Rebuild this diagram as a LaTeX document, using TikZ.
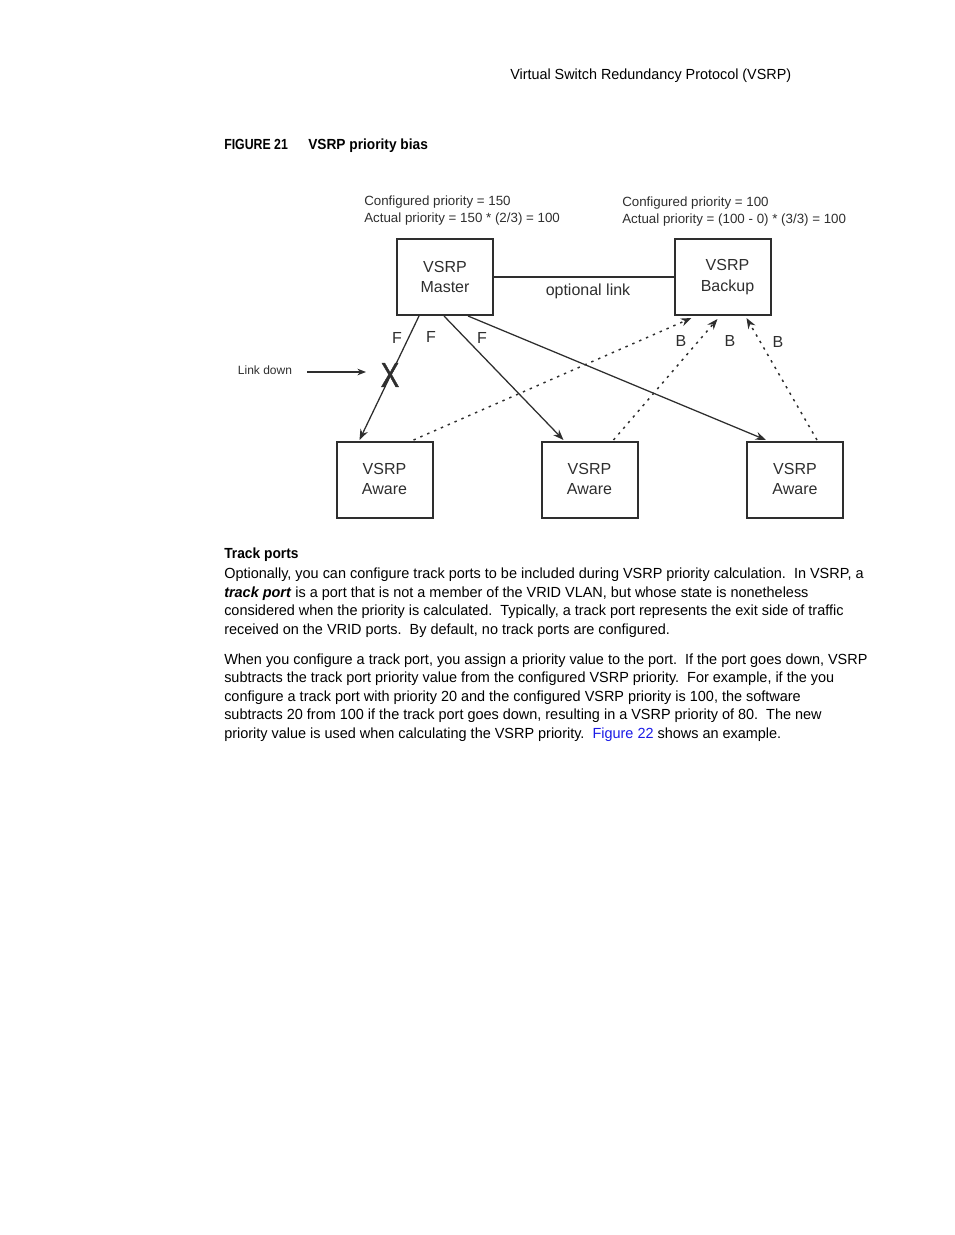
\documentclass[tikz,border=0pt]{standalone}
\usepackage{fontspec}
\setmainfont{Liberation Sans}
\newfontfamily\bodyfont[FakeStretch=0.985]{Liberation Sans}
\newfontfamily\hdrfont[FakeStretch=0.98]{Liberation Sans}
\newfontfamily\boldbody[FakeStretch=0.94]{Liberation Sans}
\newfontfamily\titlefont[FakeStretch=0.935]{Liberation Sans}
\newfontfamily\condfont[FakeStretch=0.84]{Liberation Sans}
\newfontfamily\xfont[FakeStretch=0.8,FakeBold=1.2]{Liberation Sans}
\usetikzlibrary{arrows.meta,calc}
\definecolor{ink}{HTML}{2E2E2E}
\definecolor{linkblue}{HTML}{1A1AE6}
\tikzset{
  devbox/.style={draw=ink,line width=1.5pt,minimum width=72pt,minimum height=57pt,inner sep=0pt,align=center,font=\fontsize{12}{14.5}\selectfont,text=ink},
  solidlink/.style={draw=ink,line width=0.95pt,-{Stealth[length=8pt,width=6pt]}},
  dotlink/.style={draw=ink,line width=1.1pt,dash pattern=on 1.8pt off 3.8pt,-{Stealth[length=8pt,width=6pt]}},
  portlbl/.style={font=\fontsize{12}{14}\selectfont,text=ink,inner sep=0pt},
  small/.style={font=\fontsize{10}{12}\selectfont,text=ink,inner sep=0pt,anchor=base west},
  bodyline/.style={font=\bodyfont\fontsize{11}{13}\selectfont,inner sep=0pt,anchor=base west}
}
\begin{document}
\begin{tikzpicture}[x=0.75pt,y=-0.75pt]
\useasboundingbox (0,0) rectangle (954,1235);
% header
\node[inner sep=0pt,anchor=base west,font=\hdrfont\fontsize{11}{13}\selectfont] (hdr) at (510,79) {Virtual Switch Redundancy Protocol (VSRP)};
\node[inner sep=0pt,anchor=base west,font=\condfont\bfseries\fontsize{11}{12}\selectfont] (fig) at (224,149) {FIGURE 21};
\node[inner sep=0pt,anchor=base west,font=\titlefont\bfseries\fontsize{11}{12}\selectfont] (figt) at (308,149) {VSRP priority bias};
% priority labels
\node[small] (cl1) at (364,205) {Configured priority = 150};
\node[small] (cl2) at (364,222) {Actual priority = 150 * (2/3) = 100};
\node[small] (cr1) at (622,206) {Configured priority = 100};
\node[small] (cr2) at (622,223) {Actual priority = (100 - 0) * (3/3) = 100};
% boxes
\node[devbox] (m) at (445,277) {VSRP\\Master};
\node[devbox,font=\fontsize{12}{16}\selectfont] (b) at (722.5,277) {\hspace*{7.5pt}\raisebox{-1.5pt}{VSRP}\\\hspace*{7.5pt}\raisebox{-1.5pt}{Backup}};
\node[devbox] (a1) at (384.5,480) {\raisebox{1.5pt}{VSRP}\\\raisebox{1.5pt}{Aware}};
\node[devbox] (a2) at (589.5,480) {\raisebox{1.5pt}{VSRP}\\\raisebox{1.5pt}{Aware}};
\node[devbox] (a3) at (795,480) {\raisebox{1.5pt}{VSRP}\\\raisebox{1.5pt}{Aware}};
% optional link
\draw[ink,line width=1.5pt] (m.east) -- (b.east -| b.west);
\node[portlbl] (opt) at (588,291) {optional link};
% connection points
\coordinate (m1) at ($(m.south west)+(23,0)$);
\coordinate (m2) at ($(m.south west)+(48,0)$);
\coordinate (m3) at ($(m.south west)+(72,0)$);
\coordinate (t1) at ($(a1.north west)+(24,-1)$);
\coordinate (t2) at ($(a2.north west)+(23,-1)$);
\coordinate (t3) at ($(a3.north west)+(20,-1)$);
\coordinate (s1) at ($(a1.north west)+(78,-1)$);
\coordinate (s2) at ($(a2.north west)+(73,-1)$);
\coordinate (s3) at ($(a3.north west)+(71,-1)$);
\coordinate (u1) at ($(b.south west)+(18,2)$);
\coordinate (u2) at ($(b.south west)+(44,3)$);
\coordinate (u3) at ($(b.south west)+(73,2)$);
\draw[solidlink] (m1) -- (t1);
\draw[solidlink] (m2) -- (t2);
\draw[solidlink] (m3) -- (t3);
\draw[dotlink] (s1) -- (u1);
\draw[dotlink] (s2) -- (u2);
\draw[dotlink] (s3) -- (u3);
% port labels
\node[portlbl] (f1) at (397,338) {F};
\node[portlbl] (f2) at (431,337) {F};
\node[portlbl] (f3) at (482,338) {F};
\node[portlbl] (b1) at (681,341) {B};
\node[portlbl] (b2) at (730,341) {B};
\node[portlbl] (b3) at (778,342) {B};
% link down
\node[inner sep=0pt,text=ink,font=\xfont\fontsize{26}{26}\selectfont] (x) at (390,375) {X};
\node[inner sep=0pt,text=ink,font=\fontsize{9}{10}\selectfont] (ld) at (265,370) {Link down};
\coordinate (ldto) at (366,372);
\draw[ink,line width=0.8pt,-{Stealth[length=6.5pt,width=5pt]}] (307,372) -- (ldto);
% body text
\node[inner sep=0pt,anchor=base west,font=\boldbody\bfseries\fontsize{11}{13}\selectfont] (h) at (224,558) {Track ports};
\node[bodyline] (p1) at (224,578.5) {Optionally, you can configure track ports to be included during VSRP priority calculation.\ \ In VSRP, a};
\node[bodyline] (p2) at (224,597) {\textbf{\textit{track port}} is a port that is not a member of the VRID VLAN, but whose state is nonetheless};
\node[bodyline] (p3) at (224,615.5) {considered when the priority is calculated.\ \ Typically, a track port represents the exit side of traffic};
\node[bodyline] (p4) at (224,634) {received on the VRID ports.\ \ By default, no track ports are configured.};
\node[bodyline] (q1) at (224,664) {When you configure a track port, you assign a priority value to the port.\ \ If the port goes down, VSRP};
\node[bodyline] (q2) at (224,682.6) {subtracts the track port priority value from the configured VSRP priority.\ \ For example, if the you};
\node[bodyline] (q3) at (224,701.2) {configure a track port with priority 20 and the configured VSRP priority is 100, the software};
\node[bodyline] (q4) at (224,719.8) {subtracts 20 from 100 if the track port goes down, resulting in a VSRP priority of 80.\ \ The new};
\node[bodyline] (q5) at (224,738.4) {priority value is used when calculating the VSRP priority.\ \ \textcolor{linkblue}{Figure 22} shows an example.};
\end{tikzpicture}
\end{document}
